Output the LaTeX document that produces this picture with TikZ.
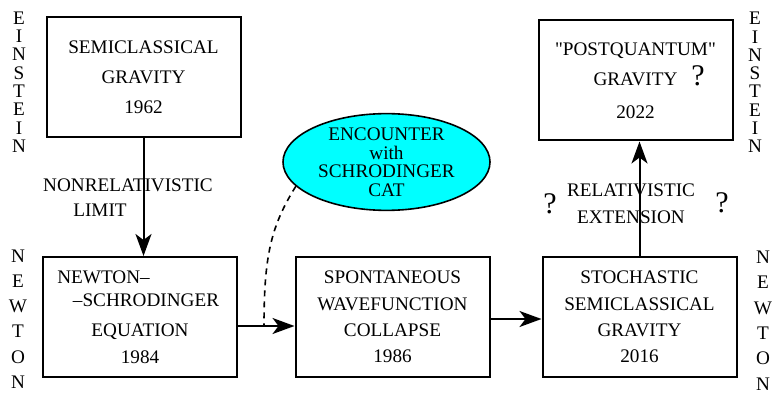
\documentclass[tikz,border=0pt]{standalone}
\usepackage{fontspec}
\setmainfont{Liberation Serif}
\newfontfamily\plainquote{Liberation Serif}
\usetikzlibrary{shapes.geometric,arrows.meta}

\definecolor{catcyan}{RGB}{0,255,255}
\newcommand{\fs}[1]{\fontsize{19.2}{#1}\selectfont}
\newcommand{\dq}{{\plainquote"}}
\tikzset{
  box/.style={draw, line width=2pt, minimum width=194pt, minimum height=120pt,
    inner sep=0pt, align=center},
  ell/.style={ellipse, draw, fill=catcyan, line width=1.6pt, minimum width=207pt,
    minimum height=95pt, inner sep=0pt, align=center, font=\fs{18.5}},
  conn/.style={line width=2pt, -{Stealth[length=22pt,width=16pt,inset=6pt]}},
  side/.style={align=center, inner sep=0pt},
  qmark/.style={inner sep=0pt, font=\fontsize{30}{30}\selectfont},
}

\begin{document}
\begin{tikzpicture}[x=1pt,y=-1pt]
  \useasboundingbox (0,0) rectangle (772,393);
  % the five boxes
  \node[box, font=\fs{30}] (semicl) at (143.5,77) {SEMICLASSICAL\\GRAVITY\\1962};
  \node[box, font=\fs{27}] (newtschr) at (140,317)
    {NEWTON--\hspace*{73pt}\\[-4pt]\hspace*{12pt}--SCHRODINGER\\[3pt]EQUATION\\1984};
  \node[box, font=\fs{26.3}] (swcoll) at (392.5,317)
    {SPONTANEOUS\\WAVEFUNCTION\\COLLAPSE\\1986};
  \node[box, font=\fs{26.3}] (stochsg) at (639.5,317)
    {STOCHASTIC\\SEMICLASSICAL\\GRAVITY\\2016};
  \node[box, font=\fs{30}] (postq) at (635.5,80.5)
    {\dq POSTQUANTUM\dq\\GRAVITY\\[3pt]2022};
  \node[ell] (cat) at (386.5,162) {ENCOUNTER\\with\\SCHRODINGER\\CAT};
  % labels
  \node[align=center, inner sep=0pt, font=\fs{25}] (nonrel) at (128,197.5)
    {NONRELATIVISTIC\\LIMIT\hspace*{56pt}};
  \node[align=center, inner sep=0pt, font=\fs{27}] (relext) at (631,203.5)
    {RELATIVISTIC\\EXTENSION};
  \node[qmark] (qbox) at (698,76) {?};
  \node[qmark] (qleft) at (550,204) {?};
  \node[qmark] (qright) at (722,202.5) {?};
  % side words
  \node[side, font=\fs{18.3}] (einl) at (19,82) {E\\I\\N\\S\\T\\E\\I\\N};
  \node[side, font=\fs{18.3}] (einr) at (755,82.5) {E\\I\\N\\S\\T\\E\\I\\N};
  \node[side, font=\fs{25.2}] (newl) at (18,319) {N\\E\\W\\T\\O\\N};
  \node[side, font=\fs{25.4}] (newr) at (763,320.5) {N\\E\\W\\T\\O\\N};
  % connectors
  \coordinate (dashend) at ([xshift=26pt,yshift=-9pt]newtschr.east);
  \draw[conn] (semicl.south) -- (semicl.south |- newtschr.north);
  \draw[conn] ([yshift=-9pt]newtschr.east) -- ([yshift=-9pt]swcoll.west);
  \draw[conn] ([yshift=-2pt]swcoll.east) -- ([yshift=-2pt]stochsg.west);
  \draw[conn] (stochsg.north) -- (stochsg.north |- postq.south);
  \draw[line width=1.6pt, dash pattern=on 6pt off 5pt]
    (cat.195) .. controls +(-25,40) and +(0,-70) .. (dashend);
\end{tikzpicture}
\end{document}
